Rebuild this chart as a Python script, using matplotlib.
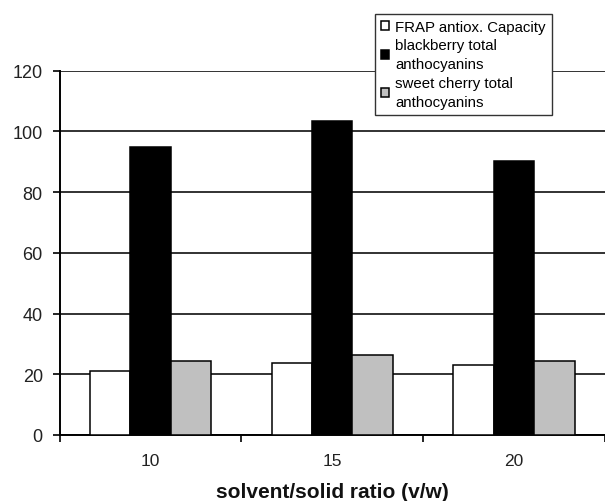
import matplotlib.pyplot as plt
import numpy as np

plt.rcParams['font.family'] = ['Liberation Sans', 'DejaVu Sans']

categories = ["10", "15", "20"]
frap = [21.0, 23.6, 23.2]
blackberry = [94.8, 103.4, 90.2]
cherry = [24.4, 26.5, 24.4]
series_labels = ["FRAP antiox. Capacity", "blackberry total\nanthocyanins",
                 "sweet cherry total\nanthocyanins"]

fig = plt.figure(figsize=(6.05, 5.02), dpi=100)
# chart is cut off at the right edge in the original
ax = fig.add_axes([59.5 / 605, 1 - 436 / 502, 1 - 59.5 / 605, (436 - 71.7) / 502])

x = np.arange(1, len(categories) + 1)
w = 0.2225
colors = ["white", "black", "#c0c0c0"]
for i, (vals, col, lab) in enumerate(zip([frap, blackberry, cherry], colors, series_labels)):
    ax.bar(x + (i - 1) * w, vals, width=w, color=col, edgecolor="black",
           linewidth=1.1, label=lab, zorder=3)

ax.set_ylim(0, 120)
ax.set_xlim(0.5, 0.5 + (605 - 59.5) / 184.2)
ax.set_yticks(np.arange(0, 121, 20))
ax.yaxis.grid(True, color="#222222", linewidth=1.3, zorder=0)
ax.set_axisbelow(True)

ax.set_xticks(x)
ax.set_xticklabels(categories)
ax.set_xticks([0.5, 1.5, 2.5, 3.5], minor=True)
ax.tick_params(axis="x", which="major", length=0, pad=13, labelsize=12.5, labelcolor="#222222")
ax.tick_params(axis="x", which="minor", length=5, width=1.2, direction="out")
ax.tick_params(axis="y", length=5, width=1.2, direction="out", labelsize=13,
               labelcolor="#222222", pad=7)

for s in ["top", "right"]:
    ax.spines[s].set_visible(False)
ax.spines["left"].set_linewidth(1.4)
ax.spines["bottom"].set_linewidth(1.4)

ax.set_xlabel("solvent/solid ratio (v/w)", fontsize=15, fontweight="bold",
              labelpad=10, color="#111111")

leg = ax.legend(loc="upper left", bbox_to_anchor=(375 / 605, 1 - 14.7 / 502),
                bbox_transform=fig.transFigure, borderaxespad=0, fontsize=10.8,
                frameon=True, fancybox=False, edgecolor="#333333",
                handlelength=0.55, handleheight=0.55, handletextpad=0.4,
                labelspacing=0.3, borderpad=0.4, framealpha=1)
for t in leg.get_texts():
    t.set_linespacing(1.45)
leg.get_frame().set_linewidth(1.0)
leg.set_zorder(5)

fig.savefig("out.png", dpi=100)
